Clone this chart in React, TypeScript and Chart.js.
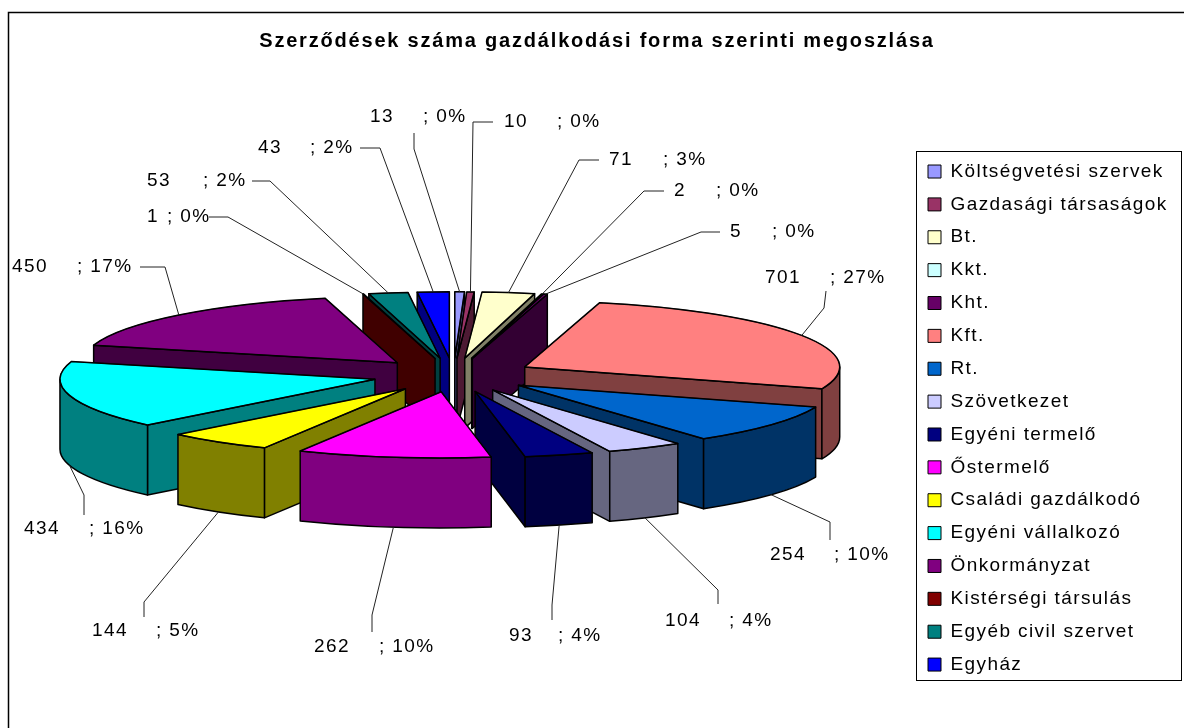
import React, { useEffect, useRef } from "react";
import { Chart, registerables } from "chart.js";

Chart.register(...registerables);

const TITLE = "Szerződések száma gazdálkodási forma szerinti megoszlása";
const CATEGORIES = [
  "Költségvetési szervek", "Gazdasági társaságok", "Bt.", "Kkt.", "Kht.", "Kft.", "Rt.", "Szövetkezet",
  "Egyéni termelő", "Őstermelő", "Családi gazdálkodó", "Egyéni vállalkozó", "Önkormányzat",
  "Kistérségi társulás", "Egyéb civil szervet", "Egyház",
];
const VALUES = [13, 10, 71, 2, 5, 701, 254, 104, 93, 262, 144, 434, 450, 1, 53, 43];
const PERCENTS = [0, 0, 3, 0, 0, 27, 10, 4, 4, 10, 5, 16, 17, 0, 2, 2];
const COLORS = [
  "#9999FF", "#993366", "#FFFFCC", "#CCFFFF", "#660066", "#FF8080", "#0066CC", "#CCCCFF",
  "#000080", "#FF00FF", "#FFFF00", "#00FFFF", "#800080", "#800000", "#008080", "#0000FF",
];

// layout constants
const W = 1184, H = 728;
const CX = 453.5, CY = 375, RADIUS = 315, SQUASH = 0.21, EXPLODE = 81, DEPTH = 70;
const FONT = '"Liberation Sans", Arial, sans-serif';
// value x, "; pct" x, label y, leader elbow points
const LABEL_LAYOUT: number[][] = [
  [370, 423, 117, 414, 133, 414, 149],
  [504, 557, 122, 493, 122, 473, 122],
  [609, 663, 160, 599, 160, 579, 160],
  [674, 716, 191, 664, 191, 644, 191],
  [730, 772, 232, 720, 232, 701, 232],
  [765, 830, 278, 826, 291, 824, 308],
  [770, 834, 555, 830, 540, 830, 522],
  [665, 729, 621, 718, 604, 718, 590],
  [509, 558, 636, 552, 620, 552, 605],
  [314, 379, 647, 372, 632, 372, 615],
  [92, 156, 631, 144, 617, 144, 602],
  [24, 89, 529, 84, 515, 84, 495],
  [12, 77, 267, 140, 267, 165, 267],
  [147, 167, 217, 209, 217, 228, 217],
  [147, 203, 181, 252, 181, 270, 181],
  [258, 310, 148, 360, 148, 380, 148],
];

const half = (hex: string) => {
  const n = parseInt(hex.slice(1), 16);
  const c = [(n >> 16) & 255, (n >> 8) & 255, n & 255].map((v) => Math.round(v / 2));
  return `rgb(${c[0]},${c[1]},${c[2]})`;
};

const setSpacing = (chart: any, s: string) => {
  chart.ctx.letterSpacing = s;
};

const pie3d = {
  id: "pie3d",
  beforeUpdate(chart: any) {
    setSpacing(chart, "1.4px");
  },
  afterLayout(chart: any) {
    const a = chart.chartArea;
    a.left = CX - 300; a.right = CX + 300; a.top = CY - 200; a.bottom = CY + 200;
    a.width = 600; a.height = 400;
    const l = chart.legend;
    l.left = 914.13; l.right = 1184; l.width = 269.87; l.top = 146.1; l.bottom = 690; l.height = 543.9;
    const t = chart.titleBlock;
    t.left = 10; t.right = W; t.width = W - 10;
    if (!t.__wrapped) {
      t.__wrapped = true;
      const draw = t.draw.bind(t);
      t.draw = () => {
        const ctx = chart.ctx;
        ctx.save();
        ctx.letterSpacing = "1.8px";
        draw();
        ctx.restore();
      };
    }
  },
  beforeDraw(chart: any) {
    const ctx = chart.ctx;
    setSpacing(chart, "1.4px");
    ctx.save();
    ctx.strokeStyle = "#000";
    ctx.lineWidth = 1.5;
    ctx.beginPath();
    ctx.moveTo(8.5, H);
    ctx.lineTo(8.5, 12.5);
    ctx.lineTo(W, 12.5);
    ctx.stroke();
    ctx.lineWidth = 1;
    ctx.strokeRect(916.5, 151.5, 265, 529);
    ctx.restore();
  },
  beforeDatasetDraw(chart: any) {
    const ctx = chart.ctx;
    const arcs = chart.getDatasetMeta(0).data;
    const order = arcs
      .map((arc: any, i: number) => ({ arc, i, mid: (arc.startAngle + arc.endAngle) / 2 }))
      .sort((p: any, q: any) => Math.sin(p.mid) - Math.sin(q.mid));

    ctx.save();
    ctx.lineJoin = "round";
    ctx.strokeStyle = "#000";
    ctx.lineWidth = 1.5;
    for (const { arc, i, mid } of order) {
      const ox = arc.x + Math.cos(mid) * EXPLODE;
      const oy = arc.y + Math.sin(mid) * EXPLODE * SQUASH;
      const r = arc.outerRadius;
      const pt = (t: number) => [ox + Math.cos(t) * r, oy + Math.sin(t) * r * SQUASH];
      const side = half(COLORS[i]);
      ctx.fillStyle = side;
      const wall = (t: number) => {
        const [px, py] = pt(t);
        ctx.beginPath();
        ctx.moveTo(ox, oy);
        ctx.lineTo(px, py);
        ctx.lineTo(px, py + DEPTH);
        ctx.lineTo(ox, oy + DEPTH);
        ctx.closePath();
        ctx.fill();
        ctx.stroke();
      };
      if (Math.cos(arc.startAngle) < 0) wall(arc.startAngle);
      if (Math.cos(arc.endAngle) > 0) wall(arc.endAngle);
      // outer rim, only the part facing the viewer
      const norm = (t: number) => ((t % (2 * Math.PI)) + 2 * Math.PI) % (2 * Math.PI);
      let s = arc.startAngle, e = arc.endAngle;
      const sN = norm(s);
      e = sN + (e - s);
      s = sN;
      if (s > Math.PI) { s -= 2 * Math.PI; e -= 2 * Math.PI; }
      const from = Math.max(s, 0), to = Math.min(e, Math.PI);
      if (to > from) {
        ctx.beginPath();
        ctx.ellipse(ox, oy, r, r * SQUASH, 0, from, to);
        ctx.ellipse(ox, oy + DEPTH, r, r * SQUASH, 0, to, from, true);
        ctx.closePath();
        ctx.fill();
        ctx.stroke();
      }
      // top face, drawn by the library's own arc element
      ctx.save();
      ctx.translate(ox, oy);
      ctx.scale(1, SQUASH);
      ctx.translate(-arc.x, -arc.y);
      arc.draw(ctx);
      ctx.restore();
      ctx.beginPath();
      ctx.moveTo(ox, oy);
      ctx.ellipse(ox, oy, r, r * SQUASH, 0, arc.startAngle, arc.endAngle);
      ctx.closePath();
      ctx.stroke();
    }
    ctx.restore();

    // data labels and leader lines
    ctx.save();
    ctx.font = `19px ${FONT}`;
    ctx.letterSpacing = "1.4px";
    ctx.textBaseline = "middle";
    ctx.fillStyle = "#000";
    ctx.strokeStyle = "#222";
    ctx.lineWidth = 1;
    arcs.forEach((arc: any, i: number) => {
      const mid = (arc.startAngle + arc.endAngle) / 2;
      const L = LABEL_LAYOUT[i];
      const reach = arc.outerRadius + EXPLODE;
      const ex = arc.x + Math.cos(mid) * reach;
      const ey = arc.y + Math.sin(mid) * reach * SQUASH + (Math.sin(mid) > 0 ? DEPTH : 0);
      ctx.beginPath();
      ctx.moveTo(L[3], L[4]);
      for (let k = 5; k + 1 < L.length; k += 2) ctx.lineTo(L[k], L[k + 1]);
      ctx.lineTo(ex, ey);
      ctx.stroke();
      ctx.fillText(String(VALUES[i]), L[0], L[2]);
      ctx.fillText(`; ${PERCENTS[i]}%`, L[1], L[2]);
    });
    ctx.restore();
    return false;
  },
};

export default function App() {
  const ref = useRef<HTMLCanvasElement>(null);
  useEffect(() => {
    const chart = new Chart(ref.current as HTMLCanvasElement, {
      type: "pie",
      data: {
        labels: CATEGORIES,
        datasets: [
          {
            data: VALUES,
            backgroundColor: COLORS,
            borderColor: "#000",
            borderWidth: 1,
            borderJoinStyle: "round",
          } as any,
        ],
      },
      options: {
        responsive: false,
        animation: false,
        devicePixelRatio: 1,
        radius: RADIUS,
        events: [],
        plugins: {
          title: {
            display: true,
            text: TITLE,
            color: "#000",
            font: { family: FONT, size: 20, weight: "bold" },
            padding: { top: 29, bottom: 10 },
          },
          legend: {
            display: true,
            position: "right",
            labels: {
              color: "#000",
              font: { family: FONT, size: 19 },
              boxWidth: 13,
              boxHeight: 13,
              padding: 13.87,
            },
          },
          tooltip: { enabled: false },
        },
      } as any,
      plugins: [pie3d as any],
    });
    return () => chart.destroy();
  }, []);
  return (
    <canvas
      ref={ref}
      width={W}
      height={H}
      style={{ position: "absolute", left: 0, top: 0, display: "block" }}
    />
  );
}
